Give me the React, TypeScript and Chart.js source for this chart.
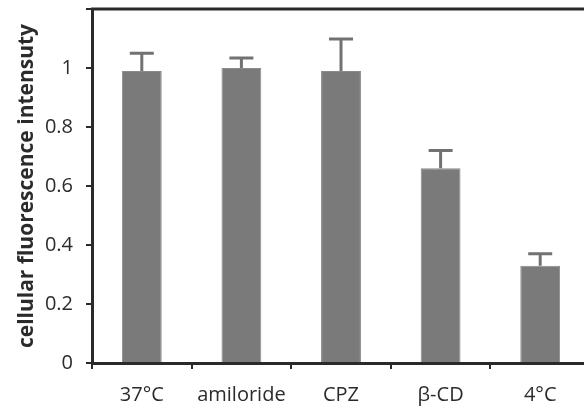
import React, { useEffect, useRef } from "react";
import { Chart, registerables } from "chart.js";

Chart.register(...registerables);

const categories = ["37°C", "amiloride", "CPZ", "β-CD", "4°C"];
const meanValues = [0.99, 1.0, 0.99, 0.66, 0.33];
const upperValues = [1.05, 1.034, 1.098, 0.72, 0.37];

const FONT = "'Open Sans', 'Noto Sans', sans-serif";

const errorBarPlugin = {
  id: "errorBars",
  afterDatasetsDraw(chart: any) {
    const ctx = chart.ctx;
    const meta = chart.getDatasetMeta(0);
    const yScale = chart.scales.y;
    ctx.save();
    ctx.strokeStyle = "#727272";
    ctx.lineWidth = 3;
    meta.data.forEach((bar: any, i: number) => {
      const x = bar.x;
      const yTop = yScale.getPixelForValue(upperValues[i]);
      const yBase = yScale.getPixelForValue(meanValues[i]);
      ctx.beginPath();
      ctx.moveTo(x, yBase);
      ctx.lineTo(x, yTop);
      ctx.moveTo(x - 12, yTop);
      ctx.lineTo(x + 12, yTop);
      ctx.stroke();
    });
    ctx.restore();
  },
};

const topBorderPlugin = {
  id: "topBorder",
  afterDraw(chart: any) {
    const { ctx, chartArea } = chart;
    ctx.save();
    ctx.strokeStyle = "#2a2a2a";
    ctx.lineWidth = 3;
    ctx.beginPath();
    ctx.moveTo(chartArea.left - 1, chartArea.top);
    ctx.lineTo(chart.width, chartArea.top);
    ctx.stroke();
    ctx.restore();
  },
};

export default function App() {
  const canvasRef = useRef<HTMLCanvasElement | null>(null);

  useEffect(() => {
    if (!canvasRef.current) return;
    const chart = new Chart(canvasRef.current, {
      type: "bar",
      data: {
        labels: categories,
        datasets: [
          {
            data: meanValues,
            backgroundColor: "#7a7a7a",
            borderColor: "#8a8a8a",
            borderWidth: 1,
            barPercentage: 0.4,
            categoryPercentage: 1,
          },
        ],
      },
      options: {
        responsive: false,
        animation: false,
        maintainAspectRatio: false,
        layout: { padding: { left: 14, right: 10, top: 9, bottom: 0 } },
        plugins: {
          legend: { display: false },
          tooltip: { enabled: false },
        },
        scales: {
          x: {
            grid: {
              display: true,
              drawOnChartArea: false,
              drawTicks: true,
              tickLength: 6,
              color: "#2a2a2a",
              lineWidth: 2,
              offset: true,
            },
            border: { display: true, color: "#2a2a2a", width: 3 },
            ticks: {
              color: "#2b2b2b",
              font: { family: FONT, size: 20 },
              padding: 14,
              maxRotation: 0,
              autoSkip: false,
            },
            afterFit: (scale: any) => {
              scale.height = 411 - 363;
              scale.paddingLeft = 0;
              scale.paddingRight = 0;
            },
          },
          y: {
            min: 0,
            max: 1.2,
            grid: {
              display: true,
              drawOnChartArea: false,
              drawTicks: true,
              tickLength: 6,
              color: "#2a2a2a",
              lineWidth: 2,
            },
            border: { display: true, color: "#2a2a2a", width: 3 },
            ticks: {
              stepSize: 0.2,
              color: "#2b2b2b",
              font: { family: FONT, size: 20 },
              padding: 13,
              callback: (v: any) => (Math.abs(v - 1.2) < 1e-6 ? "" : String(Math.round(v * 10) / 10)),
            },
            title: {
              display: true,
              text: "cellular fluorescence intensuty",
              color: "#2b2b2b",
              font: { family: FONT, size: 21, weight: "bold" },
              padding: { top: 0, bottom: 0 },
            },
            afterFit: (scale: any) => {
              scale.width = 92 - 14;
              scale.paddingTop = 0;
              scale.paddingBottom = 0;
            },
          },
        },
      },
      plugins: [errorBarPlugin, topBorderPlugin],
    });
    return () => chart.destroy();
  }, []);

  return (
    <div
      style={{
        position: "fixed",
        left: 0,
        top: 0,
        width: 584,
        height: 411,
        overflow: "hidden",
        background: "#fff",
      }}
    >
      <canvas ref={canvasRef} width={600} height={411} style={{ display: "block" }} />
    </div>
  );
}
